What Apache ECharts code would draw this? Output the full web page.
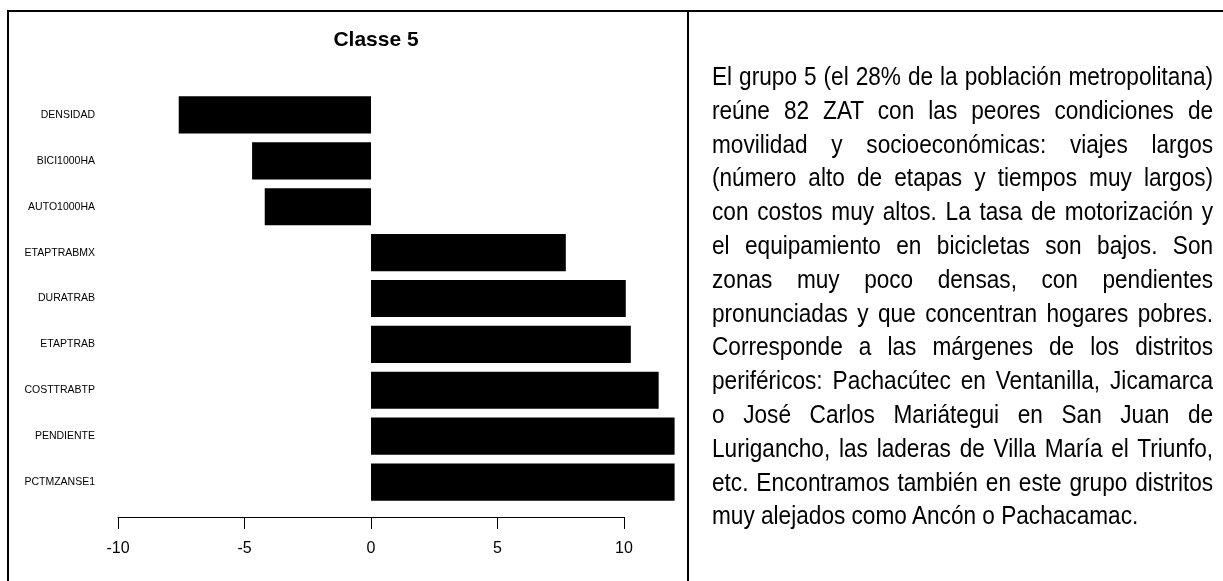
<!DOCTYPE html>
<html>
<head>
<meta charset="utf-8">
<script src="https://cdn.jsdelivr.net/npm/echarts@6/dist/echarts.min.js"></script>
<style>
  html, body { margin: 0; padding: 0; background: #fff; overflow: hidden; }
  #page { position: relative; width: 1223px; height: 581px; }
  #chart { position: absolute; left: 0; top: 0; width: 1223px; height: 581px; }
  /* cadre du tableau */
  .frame { position: absolute; left: 7px; top: 10px; width: 1240px; height: 600px;
           border-top: 2px solid #000; border-left: 2px solid #000; }
  .divider { position: absolute; left: 687px; top: 10px; width: 2px; height: 600px; background: #000; }
  /* texte un peu condense comme dans l'original */
  #texte { position: absolute; left: 712px; top: 60px; width: 576px;
           transform: scaleX(0.87); transform-origin: left top;
           font-family: "Liberation Sans", Arial, sans-serif; font-size: 26px; color: #000; }
  #texte div { line-height: 33.8px; height: 33.8px; text-align: justify; text-align-last: justify; }
  #texte div.last { text-align-last: left; }
</style>
</head>
<body>
<div id="page">
  <div class="frame"></div>
  <div class="divider"></div>
  <div id="chart"></div>
  <div id="texte"></div>
</div>
<script>
// variables (de haut en bas)
const variables = [
  'DENSIDAD', 'BICI1000HA', 'AUTO1000HA', 'ETAPTRABMX', 'DURATRAB',
  'ETAPTRAB', 'COSTTRABTP', 'PENDIENTE', 'PCTMZANSE1'
]
// valeurs (PENDIENTE et PCTMZANSE1 coupées au bord)
const valeurs = [-7.6, -4.7, -4.2, 7.7, 10.07, 10.27, 11.37, 12, 12]
const ticksX = [-10, -5, 0, 5, 10]

const lignesTexte = [
  'El grupo 5 (el 28% de la población metropolitana)',
  'reúne 82 ZAT con las peores condiciones de',
  'movilidad y socioeconómicas: viajes largos',
  '(número alto de etapas y tiempos muy largos)',
  'con costos muy altos. La tasa de motorización y',
  'el equipamiento en bicicletas son bajos. Son',
  'zonas muy poco densas, con pendientes',
  'pronunciadas y que concentran hogares pobres.',
  'Corresponde a las márgenes de los distritos',
  'periféricos: Pachacútec en Ventanilla, Jicamarca',
  'o José Carlos Mariátegui en San Juan de',
  'Lurigancho, las laderas de Villa María el Triunfo,',
  'etc. Encontramos también en este grupo distritos',
  'muy alejados como Ancón o Pachacamac.'
]

const texte = document.getElementById('texte')
lignesTexte.forEach((l, i) => {
  const d = document.createElement('div')
  d.textContent = l
  if (i === lignesTexte.length - 1) d.className = 'last'
  texte.appendChild(d)
})

const FONT = '"Liberation Sans", Arial, sans-serif'
const chart = echarts.init(document.getElementById('chart'))

chart.setOption({
  animation: false,
  title: {
    text: 'Classe 5',
    left: 371, top: 25, textAlign: 'center',
    textStyle: { fontFamily: FONT, fontSize: 21, fontWeight: 'bold', color: '#000' }
  },
  grid: [
    // barres
    { left: 118, top: 92, width: 556.6, height: 413 },
    // axe visible de -10 a 10
    { left: 118, top: 92, width: 506, height: 425 }
  ],
  xAxis: [
    { gridIndex: 0, type: 'value', min: -10, max: 12, show: false },
    {
      gridIndex: 1, type: 'value', min: -10, max: 10, interval: 5,
      axisLine: { show: true, onZero: false, lineStyle: { color: '#000', width: 1 } },
      axisTick: { show: true, length: 12, lineStyle: { color: '#000' } },
      axisLabel: {
        margin: 24, fontFamily: FONT, fontSize: 16, color: '#000',
        formatter: v => ticksX.includes(v) ? String(v) : ''
      },
      splitLine: { show: false }
    }
  ],
  yAxis: [
    {
      gridIndex: 0, type: 'category', data: variables, inverse: true,
      axisLine: { show: false }, axisTick: { show: false },
      axisLabel: { margin: 23, fontFamily: FONT, fontSize: 10.5, color: '#000' }
    },
    { gridIndex: 1, type: 'value', show: false }
  ],
  series: [{
    type: 'bar', xAxisIndex: 0, yAxisIndex: 0,
    data: valeurs,
    barCategoryGap: '19%',
    itemStyle: { color: '#000' },
    clip: true
  }]
})
</script>
</body>
</html>
